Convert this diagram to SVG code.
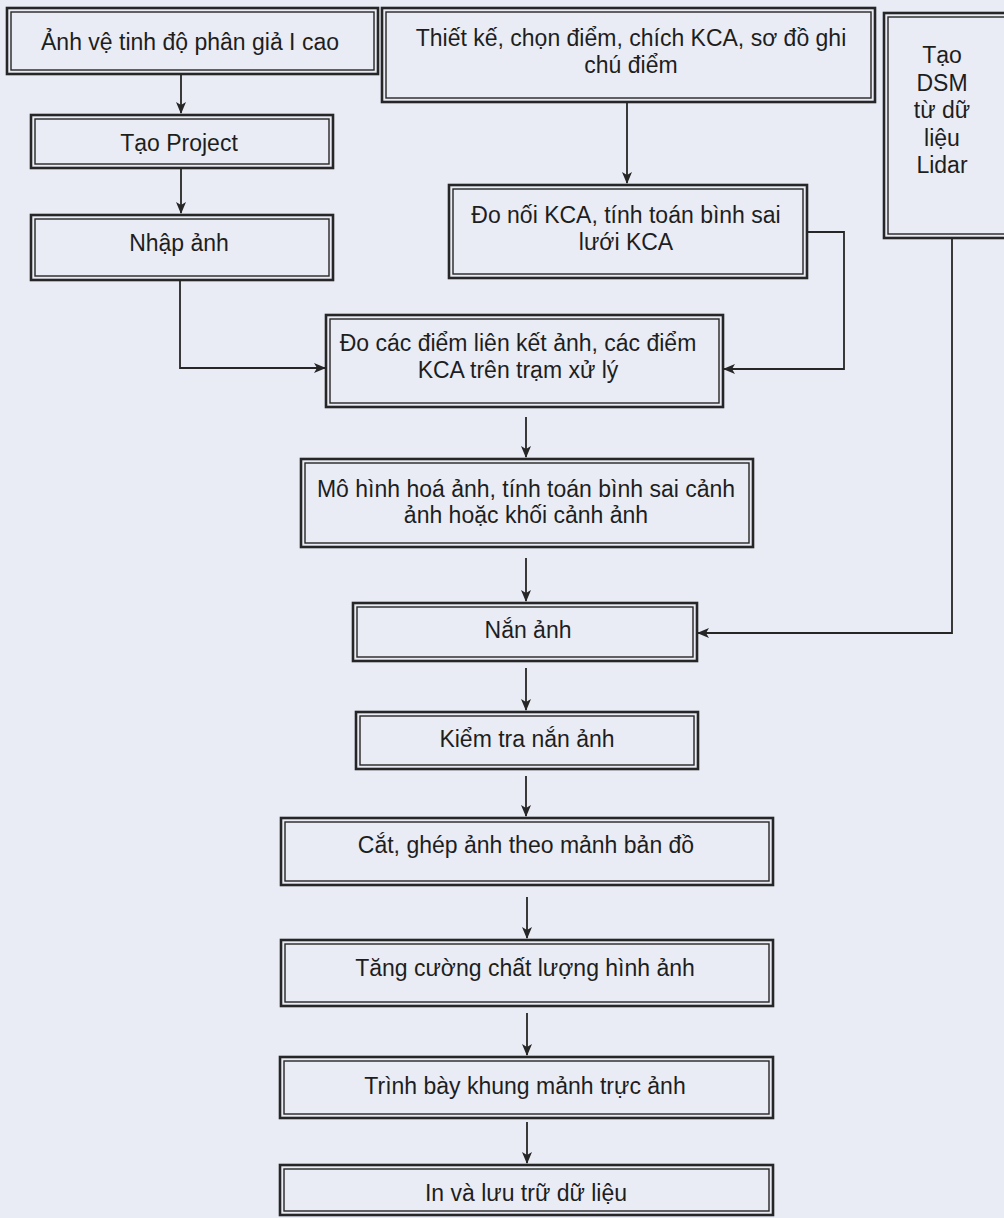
<svg xmlns="http://www.w3.org/2000/svg" width="1004" height="1218" viewBox="0 0 1004 1218">
<style>
.bo{fill:none;stroke:#262626;stroke-width:2.6}
.bi{fill:none;stroke:#262626;stroke-width:1.4}
.t{font-family:"Liberation Sans",Arial,sans-serif;font-size:23px;fill:#1e1e1e;text-anchor:middle}
.c{fill:none;stroke:#262626;stroke-width:1.8}
</style>
<defs>
<marker id="ah" markerWidth="12" markerHeight="10" refX="11" refY="5" orient="auto" markerUnits="userSpaceOnUse">
<path d="M0,0 L12,5 L0,10 L3,5 z" fill="#262626"/>
</marker>
</defs>
<rect width="1004" height="1218" fill="#e9ecf5"/>

<g id="n1">
<rect class="bo" x="7" y="8" width="371" height="66"/><rect class="bi" x="11" y="12" width="363" height="58"/>
<text class="t" x="190" y="50">Ảnh vệ tinh độ phân giả I cao</text>
</g>
<g id="n2">
<rect class="bo" x="31" y="115" width="302" height="53"/><rect class="bi" x="35" y="119" width="294" height="45"/>
<text class="t" x="179" y="151">Tạo Project</text>
</g>
<g id="n3">
<rect class="bo" x="31" y="215" width="302" height="65"/><rect class="bi" x="35" y="219" width="294" height="57"/>
<text class="t" x="179" y="251">Nhập ảnh</text>
</g>
<g id="n4">
<rect class="bo" x="382" y="8" width="493" height="94"/><rect class="bi" x="386" y="12" width="485" height="86"/>
<text class="t" x="631" y="46">Thiết kế, chọn điểm, chích KCA, sơ đồ ghi</text>
<text class="t" x="631" y="73">chú điểm</text>
</g>
<g id="n5">
<rect class="bo" x="884" y="13" width="130" height="225"/><rect class="bi" x="888" y="17" width="122" height="217"/>
<text class="t" x="942" y="63">Tạo</text>
<text class="t" x="942" y="91">DSM</text>
<text class="t" x="942" y="118">từ dữ</text>
<text class="t" x="942" y="146">liệu</text>
<text class="t" x="942" y="173">Lidar</text>
</g>
<g id="n6">
<rect class="bo" x="449" y="185" width="358" height="93"/><rect class="bi" x="453" y="189" width="350" height="85"/>
<text class="t" x="626" y="223">Đo nối KCA, tính toán bình sai</text>
<text class="t" x="626" y="250">lưới KCA</text>
</g>
<g id="n7">
<rect class="bo" x="326" y="315" width="397" height="92"/><rect class="bi" x="330" y="319" width="389" height="84"/>
<text class="t" x="518" y="351">Đo các điểm liên kết ảnh, các điểm</text>
<text class="t" x="518" y="378">KCA trên trạm xử lý</text>
</g>
<g id="n8">
<rect class="bo" x="301" y="459" width="452" height="88"/><rect class="bi" x="305" y="463" width="444" height="80"/>
<text class="t" x="526" y="497">Mô hình hoá ảnh, tính toán bình sai cảnh</text>
<text class="t" x="526" y="523">ảnh hoặc khối cảnh ảnh</text>
</g>
<g id="n9">
<rect class="bo" x="353" y="603" width="344" height="58"/><rect class="bi" x="357" y="607" width="336" height="50"/>
<text class="t" x="528" y="638">Nắn ảnh</text>
</g>
<g id="n10">
<rect class="bo" x="356" y="712" width="342" height="57"/><rect class="bi" x="360" y="716" width="334" height="49"/>
<text class="t" x="527" y="747">Kiểm tra nắn ảnh</text>
</g>
<g id="n11">
<rect class="bo" x="281" y="818" width="492" height="67"/><rect class="bi" x="285" y="822" width="484" height="59"/>
<text class="t" x="526" y="853">Cắt, ghép ảnh theo mảnh bản đồ</text>
</g>
<g id="n12">
<rect class="bo" x="281" y="940" width="492" height="66"/><rect class="bi" x="285" y="944" width="484" height="58"/>
<text class="t" x="525" y="976">Tăng cường chất lượng hình ảnh</text>
</g>
<g id="n13">
<rect class="bo" x="280" y="1057" width="493" height="61"/><rect class="bi" x="284" y="1061" width="485" height="53"/>
<text class="t" x="525" y="1094">Trình bày khung mảnh trực ảnh</text>
</g>
<g id="n14">
<rect class="bo" x="280" y="1165" width="493" height="50"/><rect class="bi" x="284" y="1169" width="485" height="42"/>
<text class="t" x="526" y="1201">In và lưu trữ dữ liệu</text>
</g>

<g id="connectors">
<path class="c" d="M181,74 V113" marker-end="url(#ah)"/>
<path class="c" d="M181,168 V213" marker-end="url(#ah)"/>
<path class="c" d="M180,280 V368 H325" marker-end="url(#ah)"/>
<path class="c" d="M627,102 V183" marker-end="url(#ah)"/>
<path class="c" d="M807,232 H844 V369 H724" marker-end="url(#ah)"/>
<path class="c" d="M952,238 V633 H698" marker-end="url(#ah)"/>
<path class="c" d="M526,417 V457" marker-end="url(#ah)"/>
<path class="c" d="M526,558 V601" marker-end="url(#ah)"/>
<path class="c" d="M526,668 V710" marker-end="url(#ah)"/>
<path class="c" d="M526,776 V816" marker-end="url(#ah)"/>
<path class="c" d="M527,897 V938" marker-end="url(#ah)"/>
<path class="c" d="M527,1013 V1055" marker-end="url(#ah)"/>
<path class="c" d="M527,1122 V1163" marker-end="url(#ah)"/>
</g>
</svg>
